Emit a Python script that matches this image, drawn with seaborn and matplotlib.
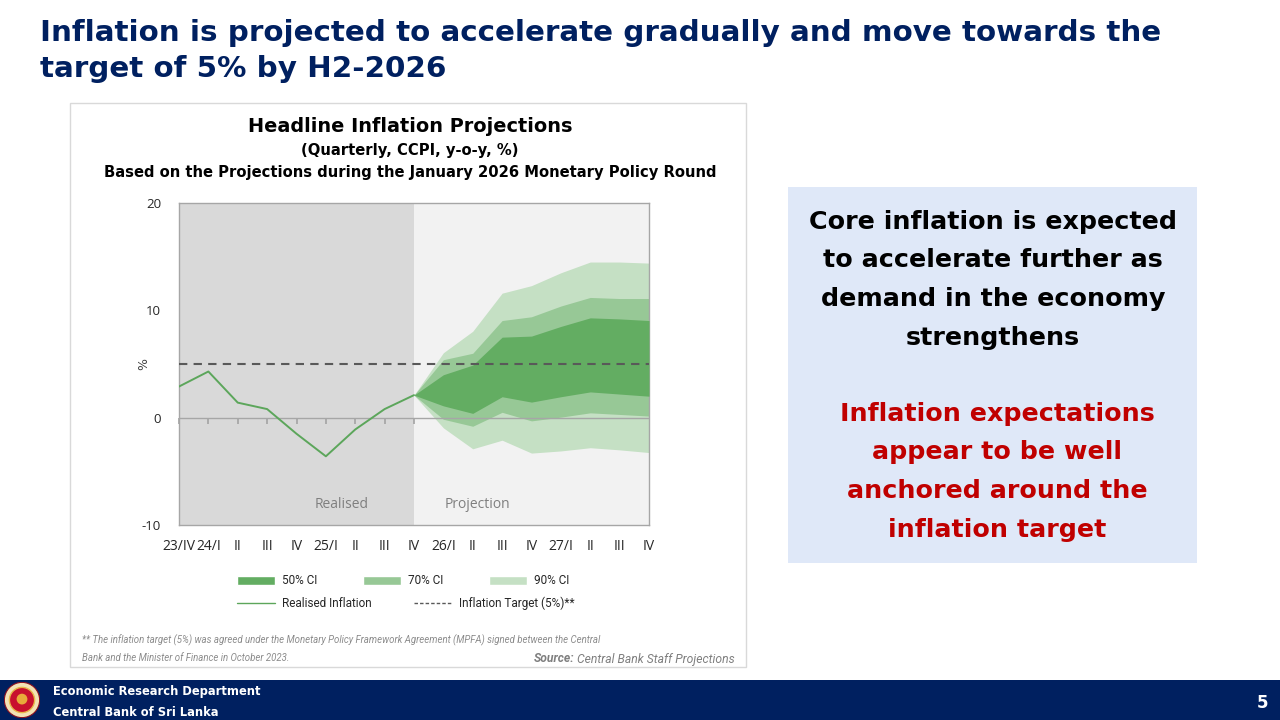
import matplotlib
matplotlib.use('Agg')
import matplotlib.pyplot as plt
import seaborn as sns
from matplotlib.patches import Rectangle, Patch, Circle
from matplotlib.lines import Line2D

# quarters on the x axis
quarters = ['23/IV', '24/I', 'II', 'III', 'IV', '25/I', 'II', 'III', 'IV',
            '26/I', 'II', 'III', 'IV', '27/I', 'II', 'III', 'IV']

# realised headline inflation, 23/IV .. 25/IV
realised = [2.9, 4.3, 1.4, 0.8, -1.5, -3.6, -1.1, 0.8, 2.1]

# projection fan, 25/IV .. 27/IV
ci50_hi = [2.1, 4.0, 4.9, 7.5, 7.6, 8.5, 9.3, 9.2, 9.05]
ci50_lo = [2.1, 1.1, 0.4, 1.95, 1.45, 1.95, 2.4, 2.2, 2.0]
ci70_hi = [2.1, 5.4, 6.0, 9.05, 9.4, 10.4, 11.2, 11.1, 11.1]
ci70_lo = [2.1, -0.15, -0.8, 0.5, -0.3, 0.05, 0.45, 0.3, 0.15]
ci90_hi = [2.1, 6.05, 8.05, 11.6, 12.3, 13.5, 14.5, 14.5, 14.4]
ci90_lo = [2.1, -0.95, -2.9, -2.1, -3.3, -3.1, -2.8, -3.0, -3.25]

target = 5
yticks = [-10, 0, 10, 20]

navy = '#002060'
c50, c70, c90 = '#63ad62', '#97c896', '#c5e0c4'
line_green = '#5ca65b'

sns.set_theme(style='white')
plt.rcParams['font.family'] = ['DejaVu Sans']
plt.rcParams['axes.unicode_minus'] = False

fig = plt.figure(figsize=(12.8, 7.2), dpi=100)
W, H = 1280, 720


def fx(px):
    return px / W


def fy(py):
    return 1 - py / H


# slide title
fig.text(fx(40), fy(33), 'Inflation is projected to accelerate gradually and move towards the',
         fontsize=21.2, fontweight='bold', color=navy, va='center', ha='left')
fig.text(fx(40), fy(69), 'target of 5% by H2-2026',
         fontsize=21.2, fontweight='bold', color=navy, va='center', ha='left')

# chart panel
fig.patches.append(Rectangle((fx(70), fy(667)), fx(676), 564 / H, transform=fig.transFigure,
                             facecolor='white', edgecolor='#d9d9d9', lw=1, zorder=-5))
fig.text(fx(410), fy(126), 'Headline Inflation Projections', fontsize=13.9, fontweight='bold',
         ha='center', va='center', color='black')
fig.text(fx(410), fy(151), '(Quarterly, CCPI, y-o-y, %)', fontsize=10.6, fontweight='bold',
         ha='center', va='center', color='black')
fig.text(fx(410), fy(173), 'Based on the Projections during the January 2026 Monetary Policy Round',
         fontsize=10.6, fontweight='bold', ha='center', va='center', color='black')

ax = fig.add_axes([fx(179), fy(525), fx(470), 322 / H])
x_all = list(range(len(quarters)))
n_real = len(realised)
x_real = x_all[:n_real]
x_proj = x_all[n_real - 1:]

ax.axvspan(0, n_real - 1, color='#d9d9d9', zorder=0, lw=0)
ax.axvspan(n_real - 1, len(quarters) - 1, color='#f2f2f2', zorder=0, lw=0)

ax.fill_between(x_proj, ci90_lo, ci90_hi, color=c90, lw=0, zorder=1)
ax.fill_between(x_proj, ci70_lo, ci70_hi, color=c70, lw=0, zorder=2)
ax.fill_between(x_proj, ci50_lo, ci50_hi, color=c50, lw=0, zorder=3)

ax.axhline(0, color='#a6a6a6', lw=1, zorder=4)
ax.axhline(target, color='#595959', lw=1.5, ls=(0, (4, 3)), zorder=5)
sns.lineplot(x=x_real, y=realised, ax=ax, color=line_green, lw=1.4, zorder=6)

ax.set_xlim(0, len(quarters) - 1)
ax.set_ylim(-10, 20)
ax.set_yticks(yticks)
ax.set_xticks(x_all)
ax.set_xticklabels(quarters)
ax.tick_params(axis='x', length=0, pad=10, labelsize=10, labelcolor='#262626')
ax.tick_params(axis='y', length=0, pad=13, labelsize=9.5, labelcolor='#262626')
for lab in ax.get_xticklabels() + ax.get_yticklabels():
    lab.set_fontfamily(['Open Sans', 'DejaVu Sans'])
for s in ax.spines.values():
    s.set_color('#a6a6a6')
    s.set_linewidth(1)
ax.set_ylabel('%', fontsize=9, labelpad=-6, color='#404040')

# tick marks on the zero line
sec = ax.secondary_xaxis(1 / 3)
sec.set_xticks(x_all)
sec.tick_params(axis='x', direction='out', length=4, color='#a6a6a6', labelbottom=False,
                labeltop=False, bottom=True, top=False)
sec.spines['bottom'].set_visible(False)
sec.spines['top'].set_visible(False)

ax.text(5.55, -8.1, 'Realised', fontsize=10, color='#7f7f7f', ha='center', va='center',
        family=['Open Sans', 'DejaVu Sans'])
ax.text(10.15, -8.1, 'Projection', fontsize=10, color='#7f7f7f', ha='center', va='center',
        family=['Open Sans', 'DejaVu Sans'])

# legend
leg_font = {'family': 'Roboto', 'size': 8.5}
h1 = [Patch(facecolor=c50, label='50% CI'), Patch(facecolor=c70, label='70% CI'),
      Patch(facecolor=c90, label='90% CI')]
fig.legend(handles=h1, loc='center left', bbox_to_anchor=(fx(231), fy(581)), ncol=3,
           frameon=False, prop=leg_font, handlelength=3.2, handleheight=0.7,
           columnspacing=3.9, handletextpad=0.6, borderpad=0)
h2 = [Line2D([0], [0], color=line_green, lw=1, label='Realised Inflation'),
      Line2D([0], [0], color='#595959', lw=1, ls=(0, (2.5, 1.5)), label='Inflation Target (5%)**')]
fig.legend(handles=h2, loc='center left', bbox_to_anchor=(fx(231), fy(603)), ncol=2,
           frameon=False, prop=leg_font, handlelength=3.2, columnspacing=3.6,
           handletextpad=0.6, borderpad=0)

# footnotes
fig.text(fx(82), fy(640), '** The inflation target (5%) was agreed under the Monetary Policy Framework '
         'Agreement (MPFA) signed between the Central', fontsize=6.9, style='italic',
         color='#8c8c8c', va='center', family='Roboto')
fig.text(fx(82), fy(658), 'Bank and the Minister of Finance in October 2023.', fontsize=6.9,
         style='italic', color='#8c8c8c', va='center', family='Roboto')
fig.text(fx(577), fy(659), 'Central Bank Staff Projections', fontsize=8.7, style='italic',
         color='#7f7f7f', va='center', ha='left', family='Roboto')
fig.text(fx(574), fy(659), 'Source:', fontsize=8.7, style='italic', fontweight='bold',
         color='#7f7f7f', va='center', ha='right', family='Roboto')

# right hand message box
fig.patches.append(Rectangle((fx(788), fy(563)), fx(409), 376 / H, transform=fig.transFigure,
                             facecolor='#dfe8f8', edgecolor='none', zorder=-5))
black_lines = ['Core inflation is expected', 'to accelerate further as',
               'demand in the economy', 'strengthens']
red_lines = ['Inflation expectations', 'appear to be well',
             'anchored around the', 'inflation target']
for i, t in enumerate(black_lines):
    fig.text(fx(993), fy(222 + 38.5 * i), t, fontsize=18.3, fontweight='bold', color='black',
             ha='center', va='center')
for i, t in enumerate(red_lines):
    fig.text(fx(997), fy(414 + 38.5 * i), t, fontsize=18.3, fontweight='bold', color='#c00000',
             ha='center', va='center')

# footer bar
fig.patches.append(Rectangle((0, 0), 1, 40 / H, transform=fig.transFigure,
                             facecolor=navy, edgecolor='none', zorder=-5))
fig.text(fx(53), fy(691), 'Economic Research Department', fontsize=8.3, fontweight='bold',
         color='white', va='center')
fig.text(fx(53), fy(712), 'Central Bank of Sri Lanka', fontsize=8.3, fontweight='bold',
         color='white', va='center')
fig.text(fx(1263), fy(703), '5', fontsize=12, fontweight='bold', color='white',
         va='center', ha='center')

axl = fig.add_axes([fx(4), fy(718), fx(36), 36 / H])
axl.set_xlim(-1, 1)
axl.set_ylim(-1, 1)
axl.set_aspect('equal')
axl.axis('off')
axl.add_patch(Circle((0, 0), 0.98, facecolor='#f3e3b5', edgecolor='#8a1020', lw=0.8))
axl.add_patch(Circle((0, 0), 0.7, facecolor='#c8102e', edgecolor='#e8b84a', lw=1))
axl.add_patch(Circle((0, 0.05), 0.3, facecolor='#e8a93a', edgecolor='none'))

fig.savefig('out.png', dpi=100)
